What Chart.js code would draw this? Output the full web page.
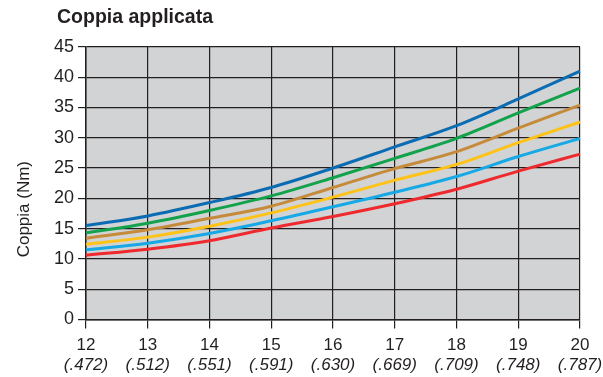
<!DOCTYPE html>
<html>
<head>
<meta charset="utf-8">
<script src="https://cdn.jsdelivr.net/npm/chart.js@4/dist/chart.umd.min.js"></script>
<style>
  html, body { margin: 0; padding: 0; background: #fff; }
  #wrap { width: 603px; height: 377px; }
</style>
</head>
<body>
<div id="wrap"><canvas id="chart"></canvas></div>
<script>
// Coppia applicata - torque chart
const mmLabels = ['12', '13', '14', '15', '16', '17', '18', '19', '20'];
const inchLabels = ['(.472)', '(.512)', '(.551)', '(.591)', '(.630)', '(.669)', '(.709)', '(.748)', '(.787)'];

const darkBlue  = [15.5, 17.1, 19.3, 21.8, 25.0, 28.5, 32.0, 36.4, 41.0];
const green     = [14.3, 15.9, 18.0, 20.4, 23.4, 26.6, 29.9, 34.1, 38.2];
const brown     = [13.4, 14.8, 16.7, 18.7, 21.8, 24.9, 27.7, 31.6, 35.4];
const yellow    = [12.4, 13.6, 15.4, 17.6, 20.2, 23.0, 25.6, 29.2, 32.6];
const lightBlue = [11.5, 12.6, 14.2, 16.3, 18.6, 21.0, 23.6, 26.9, 29.9];
const red       = [10.6, 11.6, 13.0, 15.1, 17.0, 19.1, 21.5, 24.5, 27.3];

const FONT = 'Liberation Sans, Arial, Helvetica, sans-serif';
const INK = '#231f20';

function line(data, color) {
    return {
        data: data,
        borderColor: color,
        borderWidth: 3,
        pointRadius: 0,
        fill: false,
        cubicInterpolationMode: 'monotone'
    };
}

// grey plot background + title position
const plotBg = {
    id: 'plotBg',
    afterLayout(chart) {
        chart.titleBlock.left = 57;
    },
    beforeDraw(chart) {
        const a = chart.chartArea;
        const ctx = chart.ctx;
        ctx.save();
        ctx.fillStyle = '#d1d3d4';
        ctx.fillRect(a.left, a.top, a.right - a.left, a.bottom - a.top);
        ctx.restore();
    }
};

new Chart(document.getElementById('chart'), {
    type: 'line',
    data: {
        labels: mmLabels,
        datasets: [
            line(darkBlue, '#0b6cb4'),
            line(green, '#12a24b'),
            line(brown, '#c58b3b'),
            line(yellow, '#ffc318'),
            line(lightBlue, '#17a9e6'),
            line(red, '#ee2a2e')
        ]
    },
    options: {
        responsive: true,
        maintainAspectRatio: false,
        animation: false,
        layout: { padding: { left: 0, right: 23, top: 0, bottom: 1 } },
        scales: {
            x: {
                type: 'category',
                offset: false,
                afterFit(scale) { scale.height = 36; },
                grid: { color: INK, lineWidth: 1.2, tickLength: 9 },
                border: { color: INK, width: 1.5 },
                ticks: { color: INK, font: { family: FONT, size: 17, lineHeight: 1.2 }, padding: 6.5, maxRotation: 0, autoSkip: false }
            },
            x2: {
                type: 'category',
                labels: inchLabels,
                position: 'bottom',
                offset: false,
                afterFit(scale) { scale.height = 20.5; },
                grid: { display: false, drawTicks: false, tickLength: 0 },
                border: { display: false },
                ticks: { color: INK, font: { family: FONT, size: 17, style: 'italic', lineHeight: 1.2 }, padding: 0, maxRotation: 0, autoSkip: false }
            },
            y: {
                min: 0,
                max: 45,
                afterFit(scale) { scale.width = 86; },
                grid: { color: INK, lineWidth: 1.2, tickLength: 8 },
                border: { color: INK, width: 1.5 },
                ticks: { stepSize: 5, color: INK, font: { family: FONT, size: 18 }, padding: 4 },
                title: {
                    display: true,
                    text: 'Coppia (Nm)' + '\u00a0'.repeat(11),
                    color: INK,
                    font: { family: FONT, size: 17 },
                    padding: { top: 14, bottom: 0 }
                }
            }
        },
        plugins: {
            legend: { display: false },
            tooltip: { enabled: false },
            title: {
                display: true,
                text: 'Coppia applicata',
                align: 'start',
                color: INK,
                font: { family: FONT, size: 19.5, weight: 'bold', lineHeight: 1.2 },
                padding: { top: 6, bottom: 17.5 }
            }
        }
    },
    plugins: [plotBg]
});
</script>
</body>
</html>
